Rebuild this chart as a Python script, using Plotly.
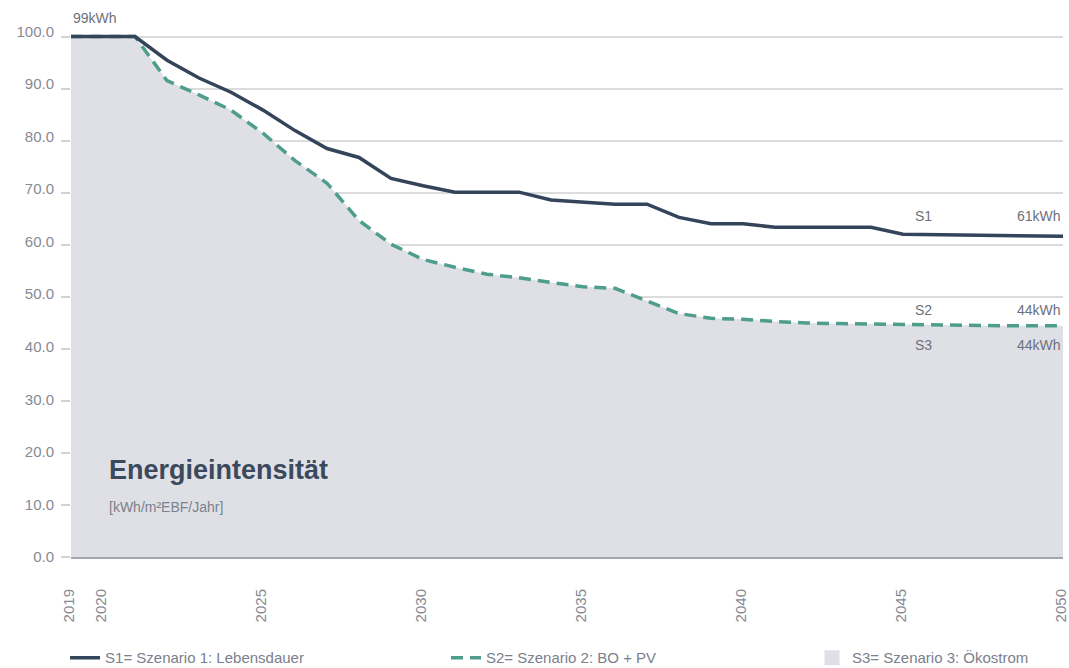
import plotly.graph_objects as go

# Energieintensität pro Jahr [kWh/m² EBF/Jahr]
years = list(range(2019, 2051))

s1_lebensdauer = [99.0, 99.0, 99.0, 94.5, 91.1, 88.4, 85.0, 81.1, 77.7, 76.0,
                  72.0, 70.6, 69.4, 69.4, 69.4, 67.9, 67.5, 67.1, 67.1, 64.6,
                  63.4, 63.4, 62.7, 62.7, 62.7, 62.7, 61.4, 61.3, 61.3, 61.2,
                  61.1, 61.0]

s2_bo_pv = [99.0, 99.0, 99.0, 90.6, 87.9, 85.0, 80.6, 75.4, 71.1, 64.0,
            59.5, 56.6, 55.1, 53.8, 53.1, 52.2, 51.4, 51.1, 48.7, 46.3,
            45.4, 45.2, 44.8, 44.5, 44.4, 44.3, 44.2, 44.1, 44.0, 44.0,
            44.0, 44.0]

s3_oekostrom = [99.0, 99.0, 99.0, 90.6, 87.9, 85.0, 80.6, 75.4, 71.1, 64.0,
                59.5, 56.6, 55.1, 53.8, 53.1, 52.2, 51.4, 51.1, 48.7, 46.3,
                45.4, 45.2, 44.8, 44.5, 44.4, 44.3, 44.2, 44.1, 44.0, 44.0,
                44.0, 44.0]

x_ticks = [2019, 2020, 2025, 2030, 2035, 2040, 2045, 2050]
y_ticks = [0, 10, 20, 30, 40, 50, 60, 70, 80, 90, 100]
y_ticktext = [f"{v:.1f}" for v in y_ticks]

# horizontal guide lines: eleven evenly spaced lines from the baseline up to the start level
GRID_TOP = 98.86
grid_vals = [GRID_TOP * i / 10 for i in range(11)]

FONT = "Liberation Sans, Arial, sans-serif"
C_S1 = "#34445a"
C_S2 = "#4f9d8c"
C_S3 = "#dfe0e5"
C_TXT = "#868a94"
C_LBL = "#6c717d"

fig = go.Figure()

fig.add_trace(go.Scatter(
    x=years, y=s3_oekostrom, mode="lines", name="S3= Szenario 3: Ökostrom",
    line=dict(width=0, color=C_S3), fill="tozeroy", fillcolor=C_S3,
    showlegend=False, hoverinfo="skip",
))
# legend swatch for the filled area
fig.add_trace(go.Scatter(
    x=[None], y=[None], mode="markers", name="S3= Szenario 3: Ökostrom",
    marker=dict(symbol="square", size=15, color=C_S3), legend="legend3",
))
fig.add_trace(go.Scatter(
    x=years, y=s2_bo_pv, mode="lines", name="S2= Szenario 2: BO + PV",
    line=dict(width=3.5, color=C_S2, dash="12px,7px"),
    legend="legend2",
))
fig.add_trace(go.Scatter(
    x=years, y=s1_lebensdauer, mode="lines", name="S1= Szenario 1: Lebensdauer",
    line=dict(width=3.5, color=C_S1),
    legend="legend",
))

# value labels
fig.add_annotation(x=years[0], y=s1_lebensdauer[0], text=f"{s1_lebensdauer[0]:.0f}kWh",
                   showarrow=False, xanchor="left", yanchor="middle", yshift=19,
                   font=dict(size=14, color=C_LBL))
end_labels = [
    ("S1", s1_lebensdauer[-1], 20),
    ("S2", s2_bo_pv[-1], 16),
    ("S3", s3_oekostrom[-1], -19),
]
for name, val, shift in end_labels:
    fig.add_annotation(x=2045.65, y=val, text=name, showarrow=False,
                       xanchor="center", yanchor="middle", yshift=shift,
                       font=dict(size=14, color=C_LBL))
    fig.add_annotation(x=2050, y=val, text=f"{val:.0f}kWh", showarrow=False,
                       xanchor="right", yanchor="middle", yshift=shift,
                       font=dict(size=14, color=C_LBL))

fig.add_annotation(x=2020.12, y=16.55, text="<b>Energieintensität</b>", showarrow=False,
                   xanchor="left", yanchor="middle",
                   font=dict(size=27, color="#3b495c"))
fig.add_annotation(x=2020.12, y=9.5, text="[kWh/m²EBF/Jahr]", showarrow=False,
                   xanchor="left", yanchor="middle",
                   font=dict(size=14, color="#7b808c"))

legend_common = dict(orientation="h", yanchor="middle", y=-0.19, xanchor="left",
                     bgcolor="rgba(0,0,0,0)", font=dict(size=15, color="#7b808c"),
                     itemwidth=30)

fig.update_layout(
    width=1069, height=668,
    margin=dict(l=71, r=6, t=26, b=111, autoexpand=False),
    paper_bgcolor="white", plot_bgcolor="white",
    font=dict(family=FONT, color=C_TXT, size=14),
    showlegend=True,
    legend=dict(x=-0.006, **legend_common),
    legend2=dict(x=0.378, **legend_common),
    legend3=dict(x=0.747, **legend_common),
    xaxis=dict(
        range=[2019, 2050], tickmode="array", tickvals=x_ticks,
        ticktext=[str(v) for v in x_ticks], tickangle=-90,
        showgrid=False, zeroline=False, ticks="",
        ticklabelstandoff=24, ticklabelshift=-2, ticklabeloverflow="allow",
        automargin=False,
        tickfont=dict(size=15, color=C_TXT),
        showline=True, linecolor="#a4a7ae", linewidth=2,
    ),
    yaxis=dict(
        range=[0, 101], tickmode="array", tickvals=y_ticks, ticktext=y_ticktext,
        showgrid=False, zeroline=False, ticks="", ticklabelstandoff=16,
        automargin=False,
        tickfont=dict(size=15, color=C_TXT),
        minor=dict(tickmode="array", tickvals=grid_vals, showgrid=True,
                   gridcolor="#dcdcdc", gridwidth=1.5, ticks="outside",
                   ticklen=9, tickcolor="#d2d2d2", tickwidth=1.5),
    ),
)

fig.write_html("out.html")
